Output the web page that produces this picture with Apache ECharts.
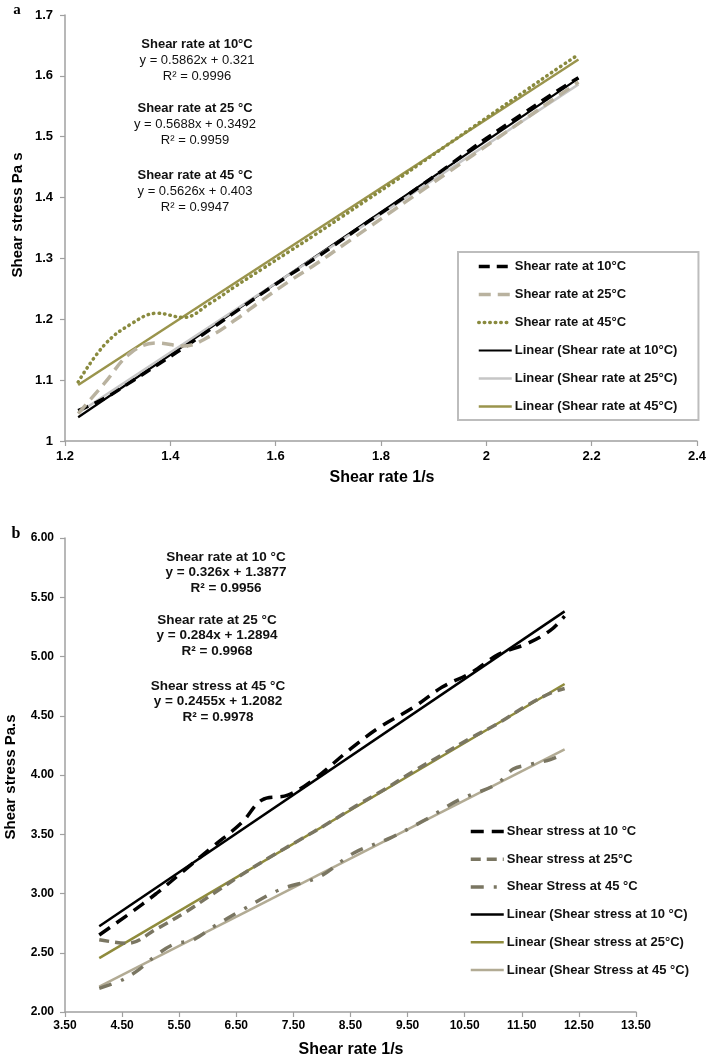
<!DOCTYPE html>
<html><head><meta charset="utf-8">
<script src="https://cdn.jsdelivr.net/npm/echarts@6/dist/echarts.min.js"></script>
<style>html,body{margin:0;padding:0;background:#fff}#c{width:709px;height:1061px}</style>
</head><body><div id="c"></div>
<script>
// ---- Panel a data ----
const xA = [1.225,1.275,1.325,1.375,1.425,1.475,1.525,1.575,1.625,1.675,1.725,1.775,1.825,1.875,1.925,1.975,2.025,2.075,2.125,2.175];
const obs10A = [1.050,1.070,1.097,1.125,1.153,1.183,1.213,1.243,1.272,1.300,1.330,1.360,1.389,1.419,1.450,1.482,1.512,1.541,1.570,1.597];
const obs25A = [1.045,1.095,1.145,1.161,1.156,1.172,1.200,1.232,1.262,1.290,1.320,1.350,1.380,1.410,1.440,1.470,1.500,1.530,1.560,1.590];
const obs45A = [1.097,1.158,1.192,1.210,1.203,1.226,1.255,1.283,1.311,1.339,1.368,1.397,1.426,1.456,1.486,1.516,1.546,1.576,1.606,1.635];
const trendXA = [1.225,2.175];
const lin10A = [1.039,1.596];
const lin25A = [1.046,1.586];
const lin45A = [1.092,1.627];
const namesA = ['Shear rate at 10°C','Shear rate at 25°C','Shear rate at 45°C','Linear (Shear rate at 10°C)','Linear (Shear rate at 25°C)','Linear (Shear rate at 45°C)'];
const xTicksA = {min:1.2,max:2.4,interval:0.2};
const yTicksA = {min:1,max:1.7,interval:0.1};

// ---- Panel b data ----
const x10B = [4.10,4.60,5.10,5.60,6.10,6.60,6.95,7.40,7.85,8.50,9.00,9.60,10.10,10.60,11.10,11.60,12.00,12.25];
const obs10B = [2.65,2.82,3.00,3.20,3.40,3.60,3.79,3.83,3.96,4.22,4.40,4.57,4.74,4.86,5.02,5.11,5.22,5.34];
const x25B = [4.10,4.60,5.10,5.60,6.10,6.60,7.10,7.60,8.10,8.60,9.10,9.60,10.10,10.60,11.10,11.60,12.00,12.25];
const obs25B = [2.61,2.58,2.70,2.84,3.00,3.16,3.31,3.45,3.59,3.74,3.88,4.03,4.17,4.31,4.44,4.59,4.69,4.73];
const x45B = [4.10,4.50,4.80,5.10,5.40,5.75,6.10,6.60,7.25,7.95,8.55,9.20,9.80,10.40,11.05,11.35,11.65,12.00,12.25];
const obs45B = [2.20,2.27,2.36,2.48,2.57,2.61,2.72,2.86,3.03,3.14,3.34,3.47,3.62,3.79,3.92,4.05,4.09,4.13,4.18];
const trendXB = [4.10,12.25];
const lin10B = [2.724,5.381];
const lin25B = [2.454,4.768];
const lin45B = [2.215,4.216];
const namesB = ['Shear stress at 10 °C','Shear stress at 25°C','Shear Stress at 45 °C','Linear (Shear stress at 10 °C)','Linear (Shear stress at 25°C)','Linear (Shear Stress at 45 °C)'];
const xTicksB = {min:3.5,max:13.5,interval:1};
const yTicksB = {min:2,max:6,interval:0.5};

// ---- Annotation texts ----
const annA = [['Shear rate at 10°C','y = 0.5862x + 0.321','R² = 0.9996'],['Shear rate at 25 °C','y = 0.5688x + 0.3492','R² = 0.9959'],['Shear rate at 45 °C','y = 0.5626x + 0.403','R² = 0.9947']];
const annB = [['Shear rate at 10 °C','y = 0.326x + 1.3877','R² = 0.9956'],['Shear rate at 25 °C','y = 0.284x + 1.2894','R² = 0.9968'],['Shear stress at 45 °C','y = 0.2455x + 1.2082','R² = 0.9978']];

const zip = (xs, ys) => xs.map((x,i)=>[x, ys[i]]);
const FF = '"Liberation Sans", Arial, sans-serif';

function lineSeries(name, xi, yi, data, color, width, type, smooth, z, cap){
  return {name, type:'line', xAxisIndex:xi, yAxisIndex:yi, data, symbol:'none', showSymbol:false,
    smooth: smooth, z: z, animation:false,
    lineStyle:{color, width, type, cap: cap||'butt'}, itemStyle:{color}, emphasis:{disabled:true}};
}

const series = [
  lineSeries(namesA[0],0,0,zip(xA,obs10A),'#000000',3.5,[11,7],0.4,3),
  lineSeries(namesA[1],0,0,zip(xA,obs25A),'#b9b29f',3.5,[12,7],0.4,3),
  lineSeries(namesA[2],0,0,zip(xA,obs45A),'#898a3e',3.5,[0.5,5],0.4,4,'round'),
  lineSeries(namesA[3],0,0,zip(trendXA,lin10A),'#000000',2.2,'solid',false,2),
  lineSeries(namesA[4],0,0,zip(trendXA,lin25A),'#c6c6c6',2.5,'solid',false,2),
  lineSeries(namesA[5],0,0,zip(trendXA,lin45A),'#9a944c',2.5,'solid',false,2),
  lineSeries(namesB[0],1,1,zip(x10B,obs10B),'#000000',3.5,[13,8],0.35,3),
  lineSeries(namesB[1],1,1,zip(x25B,obs25B),'#7a7662',3.5,[10,6],0.35,3),
  lineSeries(namesB[2],1,1,zip(x45B,obs45B),'#7a7662',3.5,[13,10,3,10],0.35,3),
  lineSeries(namesB[3],1,1,zip(trendXB,lin10B),'#000000',2.5,'solid',false,2),
  lineSeries(namesB[4],1,1,zip(trendXB,lin25B),'#8f8b3c',2.5,'solid',false,2),
  lineSeries(namesB[5],1,1,zip(trendXB,lin45B),'#b2ab94',2.5,'solid',false,2)
];

const axisLine = {show:true, onZero:false, lineStyle:{color:'#a0a0a0', width:1.5}};
const axisTick = {show:true, length:5, lineStyle:{color:'#a0a0a0', width:1.2}};

function annGraphics(groups, left, tops, bold, size, lh){
  const out = [];
  groups.forEach((g, gi) => {
    g.forEach((t, li) => {
      out.push({type:'text', x:left[gi], y:tops[gi] + li*lh, silent:true,
        style:{text:t, fill:'#111', font:(li===0||bold?'bold ':'')+size+'px '+FF, textAlign:'center', textVerticalAlign:'middle'}});
    });
  });
  return out;
}

const graphics = [
  {type:'text', x:17, y:10, style:{text:'a', fill:'#000', font:'bold 15px "Liberation Serif", serif', textAlign:'center', textVerticalAlign:'middle'}},
  {type:'text', x:16, y:534, style:{text:'b', fill:'#000', font:'bold 16px "Liberation Serif", serif', textAlign:'center', textVerticalAlign:'middle'}},
  {type:'text', x:382, y:478, style:{text:'Shear rate 1/s', fill:'#000', font:'bold 16px '+FF, textAlign:'center', textVerticalAlign:'middle'}},
  {type:'text', x:351, y:1050, style:{text:'Shear rate 1/s', fill:'#000', font:'bold 16px '+FF, textAlign:'center', textVerticalAlign:'middle'}},
  {type:'text', x:18, y:215, rotation:Math.PI/2, style:{text:'Shear stress Pa s', fill:'#000', font:'bold 15px '+FF, textAlign:'center', textVerticalAlign:'middle'}},
  {type:'text', x:11, y:777, rotation:Math.PI/2, style:{text:'Shear stress Pa.s', fill:'#000', font:'bold 15px '+FF, textAlign:'center', textVerticalAlign:'middle'}}
].concat(annGraphics(annA,[197,195,195],[44,108,175],false,13,16))
 .concat(annGraphics(annB,[226,217,218],[557,620,686],true,13.5,15.5));

const legendItemStyle = {opacity:0, borderWidth:0};
const legendLineStyle = {width:'inherit'};
const option = {
  backgroundColor:'#ffffff',
  animation:false,
  textStyle:{fontFamily:FF},
  grid:[
    {left:65, top:15, width:634, height:426, containLabel:false},
    {left:65, top:538, width:571, height:474, containLabel:false}
  ],
  xAxis:[
    {type:'value', gridIndex:0, min:xTicksA.min, max:xTicksA.max, interval:xTicksA.interval,
      axisLine, axisTick, splitLine:{show:false},
      axisLabel:{color:'#000', fontWeight:'bold', fontSize:13, fontFamily:FF, margin:9}},
    {type:'value', gridIndex:1, min:xTicksB.min, max:xTicksB.max, interval:xTicksB.interval,
      axisLine, axisTick, splitLine:{show:false},
      axisLabel:{color:'#000', fontWeight:'bold', fontSize:12, fontFamily:FF, margin:8, formatter:v=>v.toFixed(2)}}
  ],
  yAxis:[
    {type:'value', gridIndex:0, min:yTicksA.min, max:yTicksA.max, interval:yTicksA.interval,
      axisLine, axisTick, splitLine:{show:false},
      axisLabel:{color:'#000', fontWeight:'bold', fontSize:13, fontFamily:FF, margin:12}},
    {type:'value', gridIndex:1, min:yTicksB.min, max:yTicksB.max, interval:yTicksB.interval,
      axisLine, axisTick, splitLine:{show:false},
      axisLabel:{color:'#000', fontWeight:'bold', fontSize:12, fontFamily:FF, margin:11, formatter:v=>v.toFixed(2)}}
  ],
  legend:[
    {data:namesA, orient:'vertical', left:458, top:252, itemWidth:33, itemHeight:14, itemGap:15,
      padding:[8,21,7,19], borderColor:'#bdbdbd', borderWidth:2, backgroundColor:'#fff',
      itemStyle:legendItemStyle, lineStyle:legendLineStyle,
      selectedMode:false, textStyle:{color:'#111', fontWeight:'bold', fontSize:13, fontFamily:FF, padding:[0,0,0,-2]}},
    {data:namesB, orient:'vertical', left:469, top:825, itemWidth:33, itemHeight:14, itemGap:14.7,
      itemStyle:legendItemStyle, lineStyle:legendLineStyle,
      padding:0, selectedMode:false, textStyle:{color:'#111', fontWeight:'bold', fontSize:13, fontFamily:FF, padding:[0,0,0,-2]}}
  ],
  graphic: graphics,
  series
};
const chart = echarts.init(document.getElementById('c'), null, {renderer:'canvas'});
chart.setOption(option);
</script></body></html>
